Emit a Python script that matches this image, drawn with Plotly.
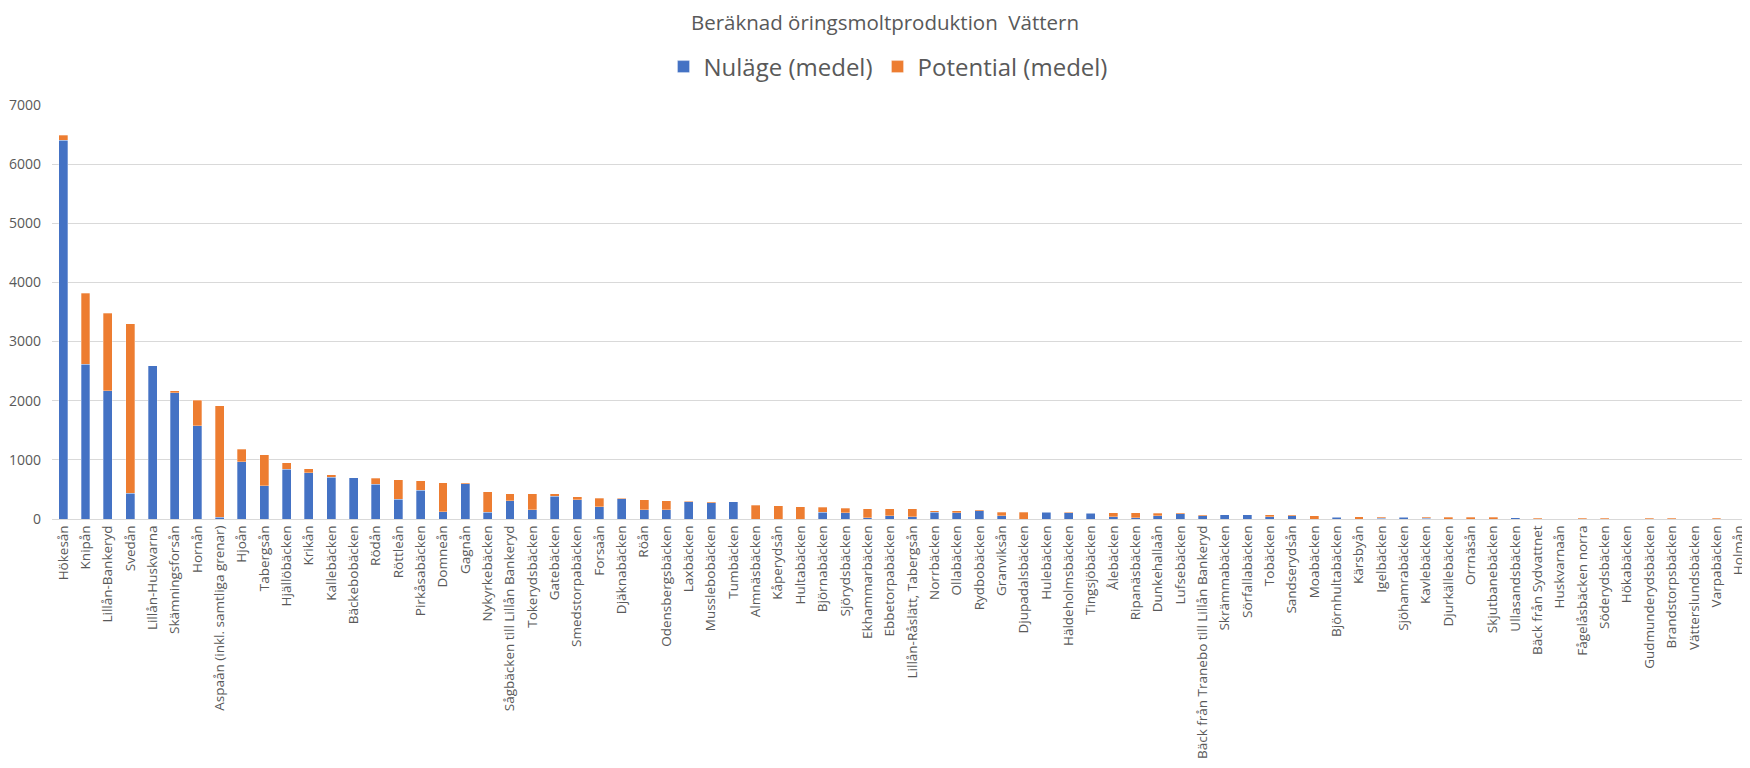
import plotly.graph_objects as go

categories = [
    "Hökesån", "Knipån", "Lillån-Bankeryd", "Svedån", "Lillån-Huskvarna",
    "Skämningsforsån", "Hornån", "Aspaån (inkl. samtliga grenar)", "Hjoån", "Tabergsån",
    "Hjällöbäcken", "Krikån", "Kallebäcken", "Bäckebobäcken", "Rödån",
    "Röttleån", "Pirkåsabäcken", "Domneån", "Gagnån", "Nykyrkebäcken",
    "Sågbäcken till Lillån Bankeryd", "Tokerydsbäcken", "Gatebäcken", "Smedstorpabäcken", "Forsaån",
    "Djäknabäcken", "Röån", "Odensbergsbäcken", "Laxbäcken", "Musslebobäcken",
    "Tumbäcken", "Almnäsbäcken", "Kåperydsån", "Hultabäcken", "Björnabäcken",
    "Sjörydsbäcken", "Ekhammarbäcken", "Ebbetorpabäcken", "Lillån-Råslätt, Tabergsån", "Norrbäcken",
    "Ollabäcken", "Rydbobäcken", "Granviksån", "Djupadalsbäcken", "Hulebäcken",
    "Häldeholmsbäcken", "Tingsjöbäcken", "Ålebäcken", "Ripanäsbäcken", "Dunkehallaån",
    "Lufsebäcken", "Bäck från Tranebo till Lillån Bankeryd", "Skrämmabäcken", "Sörfallabäcken", "Tobäcken",
    "Sandserydsån", "Moabäcken", "Björnhultabäcken", "Kärsbyån", "Igelbäcken",
    "Sjöhamrabäcken", "Kavlebäcken", "Djurkällebäcken", "Orrnäsån", "Skjutbanebäcken",
    "Ullasandsbäcken", "Bäck från Sydvattnet", "Huskvarnaån", "Fågelåsbäcken norra", "Söderydsbäcken",
    "Hökabäcken", "Gudmunderydsbäcken", "Brandstorpsbäcken", "Vätterslundsbäcken", "Varpabäcken",
    "Holmån",
]

# Nuläge (medel)
nulage = [
    6400, 2620, 2170, 435, 2590,
    2135, 1580, 30, 970, 563,
    845, 780, 710, 700, 585,
    330, 490, 124, 600, 113,
    311, 153, 384, 328, 209,
    339, 153, 153, 288, 277,
    288, 0, 0, 0, 113,
    102, 23, 57, 40, 114,
    102, 142, 57, 0, 114,
    102, 97, 40, 23, 57,
    91, 57, 74, 74, 40,
    57, 0, 28, 0, 12,
    28, 10, 0, 0, 0,
    20, 0, 0, 0, 0,
    0, 0, 0, 0, 0,
    0,
]

# Totals (Nuläge + Potential)
total = [
    6490, 3820, 3475, 3300, 2590,
    2170, 2010, 1915, 1180, 1087,
    950, 850, 750, 700, 687,
    665, 648, 610, 615, 458,
    424, 424, 424, 373, 350,
    350, 322, 305, 300, 288,
    288, 232, 220, 209, 198,
    181, 170, 170, 170, 142,
    142, 159, 114, 114, 125,
    114, 102, 102, 102, 97,
    102, 74, 74, 74, 68,
    74, 57, 40, 40, 30,
    34, 30, 28, 28, 28,
    20, 15, 0, 15, 15,
    0, 15, 15, 0, 15,
    0,
]

potential = [t - n for t, n in zip(total, nulage)]

fig = go.Figure()
fig.add_trace(go.Bar(
    x=categories, y=nulage, name="Nuläge (medel)",
    marker=dict(color="#4472C4", line=dict(color="rgba(255,255,255,0.6)", width=0.5)),
))
fig.add_trace(go.Bar(
    x=categories, y=potential, name="Potential (medel)",
    marker=dict(color="#ED7D31", line=dict(color="rgba(255,255,255,0.6)", width=0.5)),
))

W, H = 1742, 760  # page body adds an 8px margin
fig.update_layout(
    barmode="stack",
    bargap=0.6,
    width=W, height=H,
    paper_bgcolor="white", plot_bgcolor="white",
    font=dict(family="Open Sans, Segoe UI, sans-serif", color="#595959"),
    margin=dict(l=44, r=0, t=97, b=249, pad=0),
    title=dict(
        text="Beräknad öringsmoltproduktion  Vättern",
        xref="container", x=877 / W, xanchor="center",
        yref="container", y=1 - 15 / H, yanchor="middle",
        font=dict(size=20.5, color="#595959"),
    ),
    legend=dict(
        orientation="h", x=(880 - 44) / (W - 44), xanchor="center",
        y=1 + 38 / 414, yanchor="middle",
        font=dict(size=24, color="#595959"),
        traceorder="normal",
    ),
    xaxis=dict(
        tickangle=-90, tickfont=dict(size=13.5, color="#595959"),
        showgrid=False, showline=True, linecolor="#d9d9d9", linewidth=1,
        ticks="", automargin=False,
    ),
    yaxis=dict(
        range=[0, 7000], dtick=1000, tickformat="d",
        showgrid=True, gridcolor="#d9d9d9", gridwidth=1,
        tickfont=dict(size=14, color="#595959"),
        zeroline=False, ticks="", automargin=False,
        ticklabelstandoff=10,
    ),
)

fig.write_html("out.html")
